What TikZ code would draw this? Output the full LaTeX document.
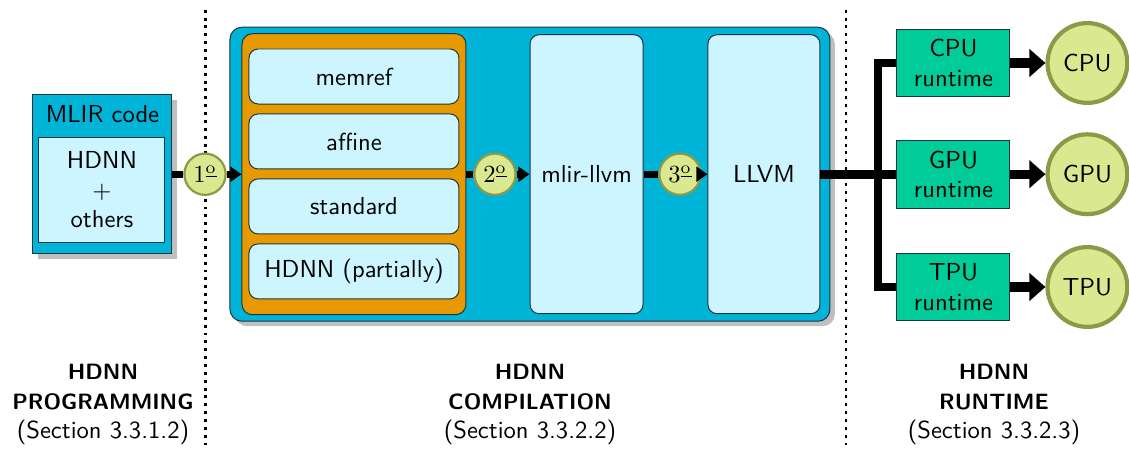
\documentclass[tikz,border=0pt]{standalone}
\usetikzlibrary{positioning,arrows.meta,shadows}

\definecolor{hdnnblue}{HTML}{00B4D8}
\definecolor{paleblue}{HTML}{CCF5FF}
\definecolor{dialorange}{HTML}{E69A00}
\definecolor{rtgreen}{HTML}{00CC99}
\definecolor{stepfill}{HTML}{DAE98F}
\definecolor{stepline}{HTML}{8A9A46}
\definecolor{lineblk}{HTML}{1E3440}

\newcommand{\headfont}[1]{{\small\bfseries #1}}

\tikzset{
	every node/.style={font=\sffamily},
	shade box/.style={drop shadow={shadow xshift=0.07cm, shadow yshift=-0.07cm, fill=black!25, opacity=1}},
	outerbox/.style={draw=lineblk, fill=hdnnblue, shade box},
	palebox/.style={draw=lineblk, fill=paleblue, rounded corners=0.13cm},
	dialbox/.style={palebox, minimum width=3cm, minimum height=0.786cm},
	rtbox/.style={draw=lineblk, fill=rtgreen, minimum width=1.614cm, minimum height=0.971cm, align=center, inner sep=1pt},
	stepc/.style={circle, draw=stepline, line width=0.9pt, fill=stepfill, minimum size=0.59cm, inner sep=0pt},
	device/.style={circle, draw=stepline, line width=1.7pt, fill=stepfill, minimum size=1.14cm, inner sep=0pt},
	flow/.style={line width=2.8pt, -{Triangle[length=4.5pt, width=6pt]}},
	bigflow/.style={line width=3.8pt, -{Triangle[length=6.5pt, width=11pt]}},
	bus/.style={line width=3.5pt},
	sep/.style={line width=1.2pt, dotted},
	part/.style={align=center}
}

\begin{document}
\begin{tikzpicture}
	\useasboundingbox (0,0) rectangle (16.129,6.429);

	\draw [sep] (2.929,6.29) -- (2.929,0.07);
	\draw [sep] (12.086,6.29) -- (12.086,0.07);

	\node [outerbox, minimum width=1.986cm, minimum height=2.271cm] (mlir) at (1.464,3.94) {};
	\node (lbl) at (1.464,4.8) {MLIR code};
	\node [draw=lineblk, fill=paleblue, minimum width=1.8cm, minimum height=1.5cm, align=center] (src) at (1.457,3.72) {HDNN\\$+$\\others};

	\node [outerbox, rounded corners=0.17cm, minimum width=8.571cm, minimum height=4.2cm] (comp) at (7.571,3.94) {};
	\node [draw=lineblk, fill=dialorange, rounded corners=0.15cm, minimum width=3.2cm, minimum height=4.014cm] (dial) at (5.057,3.94) {};

	\node [dialbox] (d1) at (5.057,5.336) {memref};
	\node [dialbox, below=0.128cm of d1] (d2) {affine};
	\node [dialbox, below=0.128cm of d2] (d3) {standard};
	\node [dialbox, below=0.128cm of d3] (d4) {HDNN (partially)};

	\node [palebox, minimum width=1.614cm, minimum height=3.986cm] (mllvm) at (8.379,3.94) {mlir-llvm};
	\node [palebox, minimum width=1.6cm, minimum height=3.986cm] (llvm) at (10.914,3.94) {LLVM};

	\node [stepc] (c1) at (2.929,3.94) {$1^{\underline{\mathrm{o}}}$};
	\node [stepc] (c2) at (7.071,3.94) {$2^{\underline{\mathrm{o}}}$};
	\node [stepc] (c3) at (9.714,3.94) {$3^{\underline{\mathrm{o}}}$};

	\node [rtbox] (r1) at (13.621,5.529) {CPU\\runtime};
	\node [rtbox] (r2) at (13.621,3.94) {GPU\\runtime};
	\node [rtbox] (r3) at (13.621,2.329) {TPU\\runtime};

	\node [device, right=0.5cm of r1] (p1) {CPU};
	\node [device, right=0.5cm of r2] (p2) {GPU};
	\node [device, right=0.5cm of r3] (p3) {TPU};

	\coordinate (split) at (12.543,3.94);

	\draw [line width=2.8pt] (mlir) -- (c1);
	\draw [flow] (c1) -- (dial);
	\draw [line width=2.8pt] (dial) -- (c2);
	\draw [flow] (c2) -- (mllvm);
	\draw [line width=2.8pt] (mllvm) -- (c3);
	\draw [flow] (c3) -- (llvm);

	\draw [bus] (llvm) -- (r2);
	\draw [bus] (r1) -| (split) |- (r3);

	\draw [bigflow] (r1) -- (p1);
	\draw [bigflow] (r2) -- (p2);
	\draw [bigflow] (r3) -- (p3);

	\node [part] (t1) at (1.471,0.65) {\headfont{HDNN}\\\headfont{PROGRAMMING}\\(Section 3.3.1.2)};
	\node [part] (t2) at (7.571,0.65) {\headfont{HDNN}\\\headfont{COMPILATION}\\(Section 3.3.2.2)};
	\node [part] (t3) at (14.2,0.65) {\headfont{HDNN}\\\headfont{RUNTIME}\\(Section 3.3.2.3)};

\end{tikzpicture}
\end{document}
